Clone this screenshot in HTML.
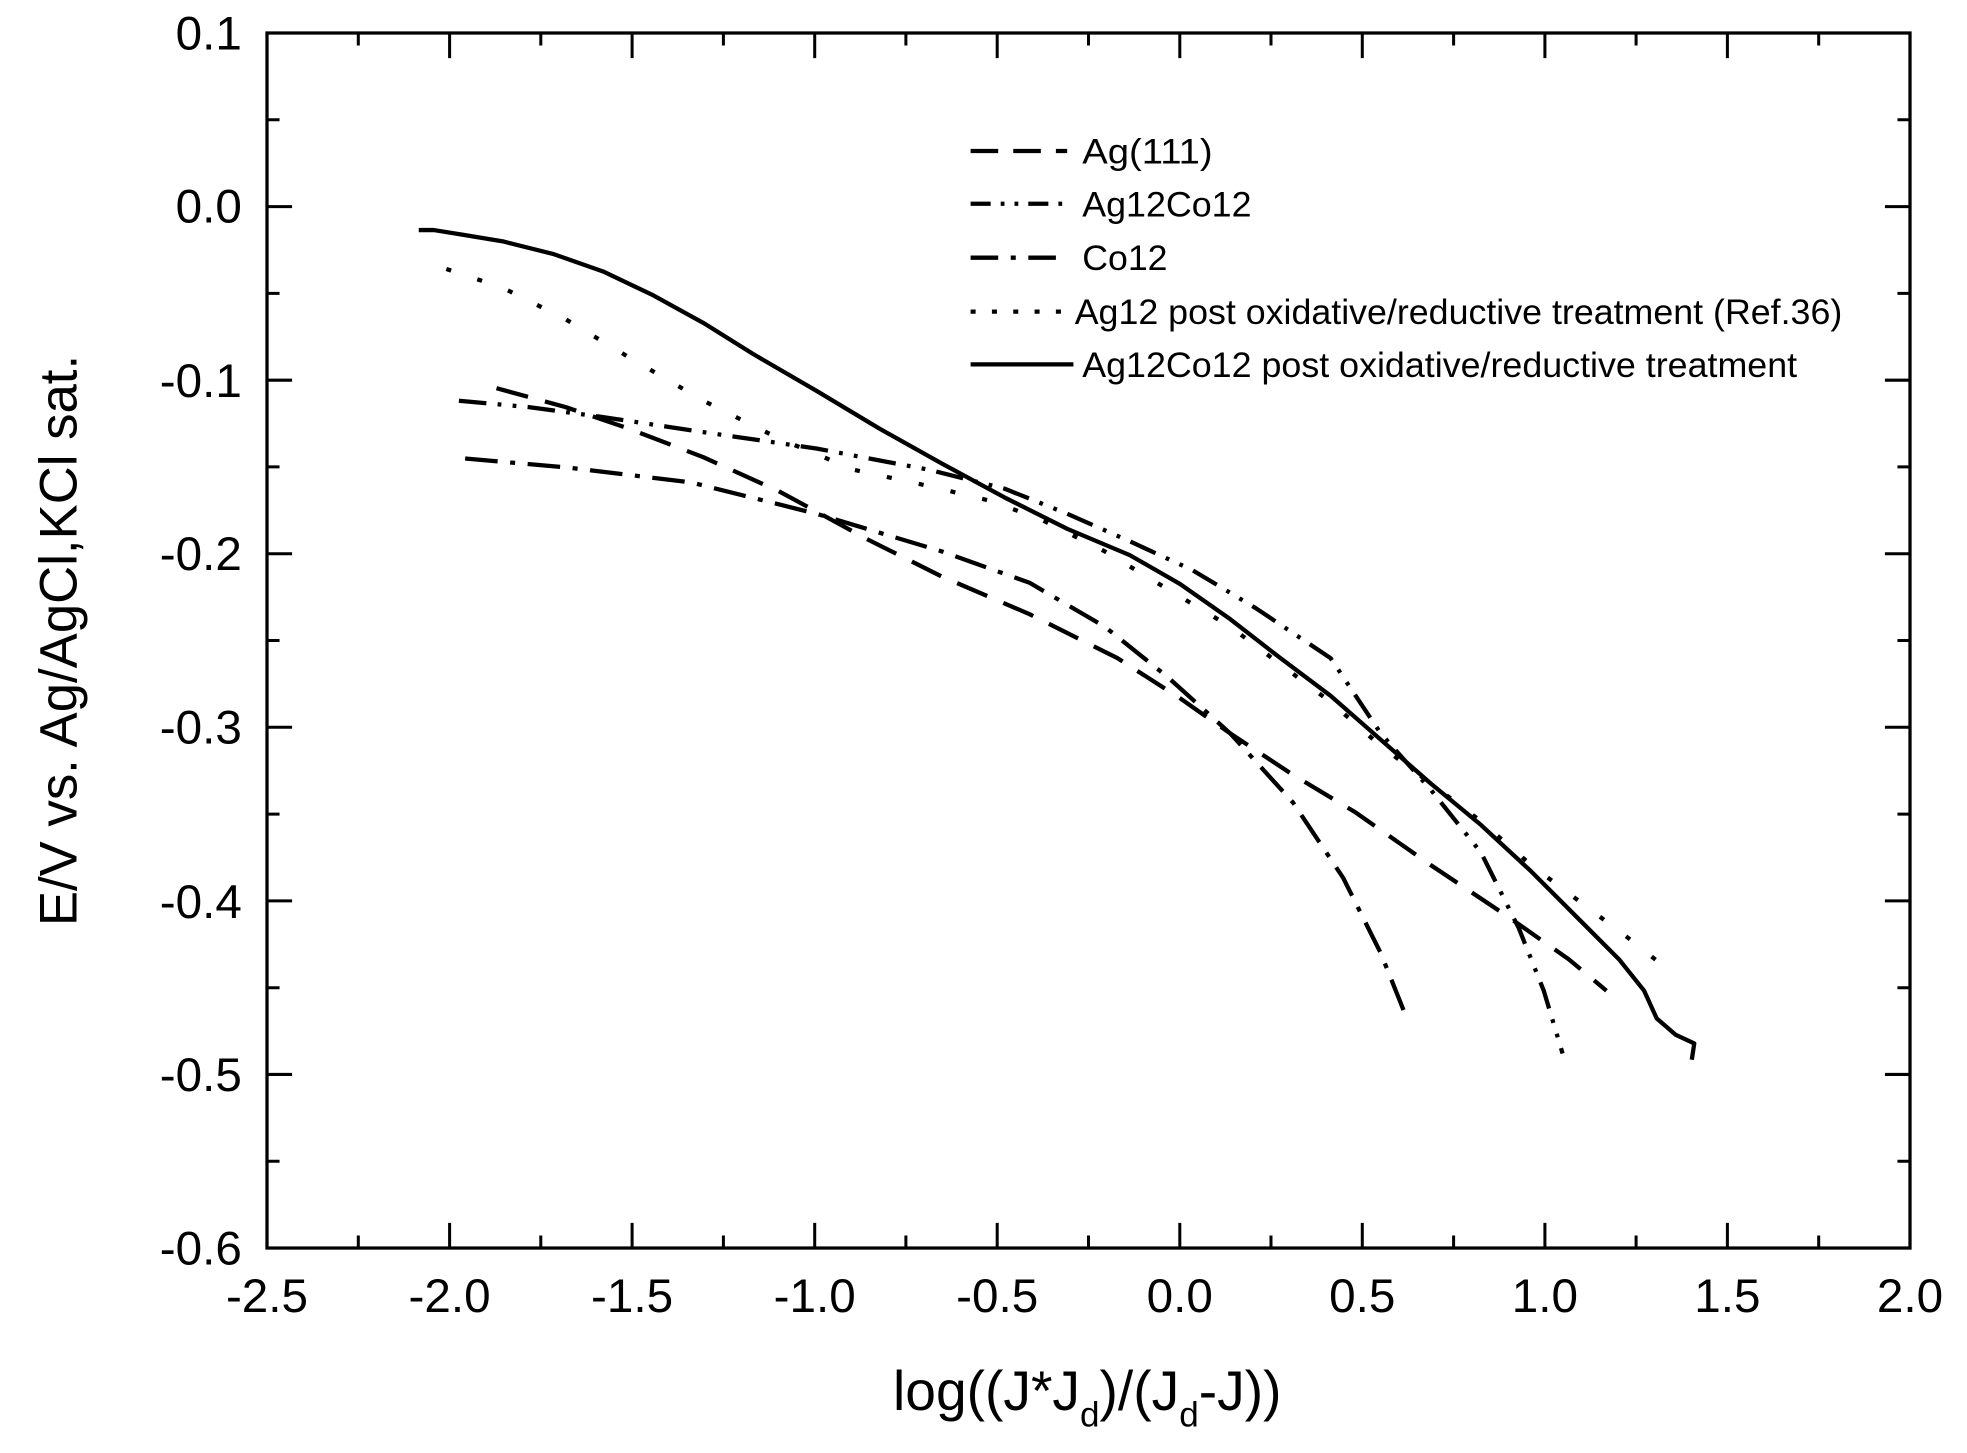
<!DOCTYPE html>
<html><head><meta charset="utf-8"><style>html,body{margin:0;padding:0;background:#fff}svg{display:block}</style></head>
<body>
<svg width="1967" height="1453" viewBox="0 0 1967 1453" xmlns="http://www.w3.org/2000/svg" font-family="Liberation Sans, Arial, sans-serif">
<g transform="translate(267,33) scale(1.2542,1.2552) translate(-212,-27)">
<rect x="212" y="27" width="1310" height="968" fill="none" stroke="#000" stroke-width="2.6"/>
<g stroke="#000" stroke-width="2.4">
<path d="M212 995v-20M357.6 995v-20M503.1 995v-20M648.7 995v-20M794.2 995v-20M939.8 995v-20M1085.3 995v-20M1230.9 995v-20M1376.4 995v-20
M284.8 995v-10M430.3 995v-10M575.9 995v-10M721.4 995v-10M867 995v-10M1012.5 995v-10M1158.1 995v-10M1303.6 995v-10M1449.2 995v-10
M357.6 27v20M503.1 27v20M648.7 27v20M794.2 27v20M939.8 27v20M1085.3 27v20M1230.9 27v20M1376.4 27v20
M284.8 27v10M430.3 27v10M575.9 27v10M721.4 27v10M867 27v10M1012.5 27v10M1158.1 27v10M1303.6 27v10M1449.2 27v10"/>
<path d="M212 165.3h20M212 303.6h20M212 441.9h20M212 580.1h20M212 718.4h20M212 856.7h20
M212 96.1h10M212 234.4h10M212 372.7h10M212 511h10M212 649.3h10M212 787.6h10M212 925.9h10
M1522 165.3h-20M1522 303.6h-20M1522 441.9h-20M1522 580.1h-20M1522 718.4h-20M1522 856.7h-20
M1522 96.1h-10M1522 234.4h-10M1522 372.7h-10M1522 511h-10M1522 649.3h-10M1522 787.6h-10M1522 925.9h-10"/>
</g>
<g font-size="38" text-anchor="end" fill="#000">
<text x="192" y="40">0.1</text>
<text x="192" y="178">0.0</text>
<text x="192" y="317">-0.1</text>
<text x="192" y="455">-0.2</text>
<text x="192" y="593">-0.3</text>
<text x="192" y="732">-0.4</text>
<text x="192" y="870">-0.5</text>
<text x="192" y="1008">-0.6</text>
</g>
<g font-size="38" text-anchor="middle" fill="#000">
<text x="212" y="1046">-2.5</text>
<text x="357.6" y="1046">-2.0</text>
<text x="503.1" y="1046">-1.5</text>
<text x="648.7" y="1046">-1.0</text>
<text x="794.2" y="1046">-0.5</text>
<text x="939.8" y="1046">0.0</text>
<text x="1085.3" y="1046">0.5</text>
<text x="1230.9" y="1046">1.0</text>
<text x="1376.4" y="1046">1.5</text>
<text x="1522" y="1046">2.0</text>
</g>
<text x="866" y="1124" font-size="44" text-anchor="middle">log((J*J<tspan font-size="28" dy="13">d</tspan><tspan dy="-13">)/(J</tspan><tspan font-size="28" dy="13">d</tspan><tspan dy="-13">-J))</tspan></text>
<text transform="translate(60,511) rotate(-90)" font-size="42" text-anchor="middle">E/V vs. Ag/AgCl,KCl sat.</text>
<g stroke="#000" stroke-width="3.4" fill="none">
<path d="M773 121h77" stroke-dasharray="22 12"/>
<path d="M773 163h77" stroke-dasharray="16 8 3 8 3 8"/>
<path d="M773 206h77" stroke-dasharray="22 10 4 10"/>
<path d="M773 249h77" stroke-dasharray="4 13"/>
<path d="M773 291h82"/>
</g>
<g font-size="28" fill="#000">
<text x="862" y="131" textLength="104" lengthAdjust="spacingAndGlyphs">Ag(111)</text>
<text x="862" y="173" textLength="135" lengthAdjust="spacingAndGlyphs">Ag12Co12</text>
<text x="862" y="216" textLength="68" lengthAdjust="spacingAndGlyphs">Co12</text>
<text x="856" y="259" textLength="612" lengthAdjust="spacingAndGlyphs">Ag12 post oxidative/reductive treatment (Ref.36)</text>
<text x="862" y="301" textLength="570" lengthAdjust="spacingAndGlyphs">Ag12Co12 post oxidative/reductive treatment</text>
</g>
<g fill="none" stroke="#000" stroke-width="3.4" stroke-linejoin="round">
<polyline points="333,184 345,184 370,188 400,193 440,203 480,217 520,236 560,258 600,283 650,312 700,342 750,370 800,397 850,422 900,443 940,466 980,494 1020,525 1060,555 1100,590 1140,625 1180,658 1220,695 1260,735 1290,765 1310,790 1320,812 1335,825 1350,832 1348,845"/>
<polyline stroke-dasharray="4 22" points="355,215 400,230 450,255 500,285 560,320 620,350 680,375 740,388 790,400 830,415 880,440 930,470 980,500 1020,530 1060,560 1100,595 1140,625 1180,655 1220,690 1260,720 1300,750 1335,778"/>
<polyline stroke-dasharray="22 9 3 9 3 9" points="365,320 420,325 480,333 560,345 650,358 740,375 800,390 850,410 900,432 950,455 1000,485 1060,525 1100,585 1140,630 1180,680 1210,740 1230,790 1245,840"/>
<polyline stroke-dasharray="26 10 4 10" points="370,366 450,373 550,385 650,410 750,440 820,465 880,500 930,540 980,585 1030,640 1070,700 1100,760 1120,810"/>
<polyline stroke-dasharray="26 14" points="395,310 450,325 500,342 560,365 620,392 690,430 750,460 820,490 890,525 940,557 980,585 1030,618 1080,648 1140,690 1200,730 1250,765 1280,790"/>
</g>
</g>
</svg>
</body></html>
